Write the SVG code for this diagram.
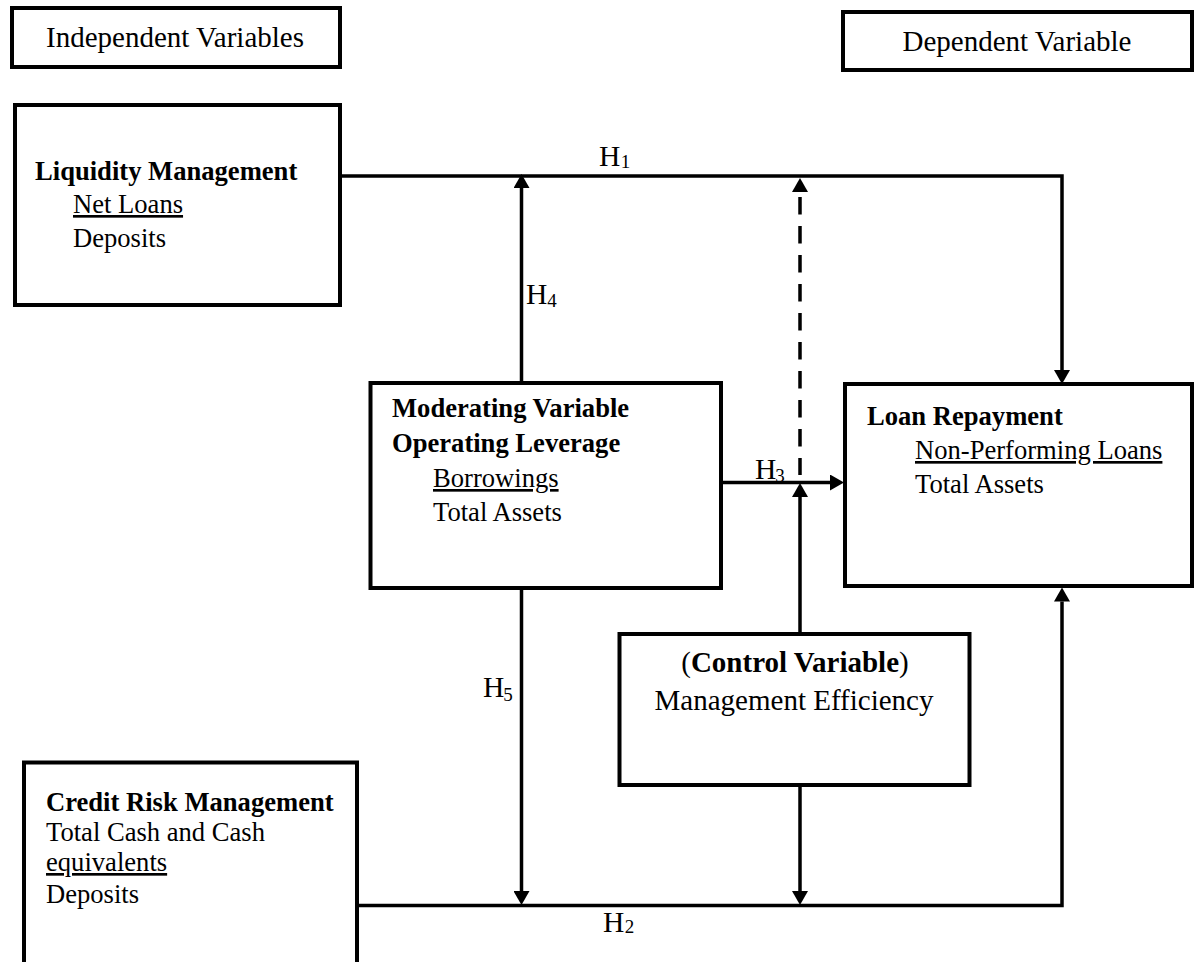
<svg xmlns="http://www.w3.org/2000/svg" width="1195" height="962" viewBox="0 0 1195 962">
<style>
.box{fill:#fff;stroke:#000;stroke-width:4}
.t{font-family:"Liberation Serif","Times New Roman",serif;font-size:26.6px;fill:#000}
.big{font-size:29px}
.b{font-weight:bold}
.u{text-decoration:underline}
.h{font-family:"Liberation Serif","Times New Roman",serif;font-size:29.5px;fill:#000}
.s{font-size:19px}
.ln{fill:none;stroke:#000;stroke-width:3.5}
.dash{stroke-dasharray:17.5 11.5;stroke-dashoffset:24}
</style>
<defs>
<marker id="arr" viewBox="0 0 14 16" markerWidth="14" markerHeight="16" refX="0" refY="8" orient="auto" markerUnits="userSpaceOnUse">
<path d="M0,0 L14,8 L0,16 Z" fill="#000"/>
</marker>
<marker id="arrs" viewBox="0 0 14 16" markerWidth="14" markerHeight="16" refX="0" refY="8" orient="auto-start-reverse" markerUnits="userSpaceOnUse">
<path d="M0,0 L14,8 L0,16 Z" fill="#000"/>
</marker>
</defs>
<rect width="1195" height="962" fill="#fff"/>

<g id="connectors">
<path class="ln" d="M342,176 H1062 V370" marker-end="url(#arr)"/>
<path class="ln" d="M521.5,383 V188" marker-end="url(#arr)"/>
<path class="ln dash" d="M800,192 V475" marker-start="url(#arrs)"/>
<path class="ln" d="M721,482.5 H830" marker-end="url(#arr)"/>
<path class="ln" d="M800,634 V497" marker-end="url(#arr)"/>
<path class="ln" d="M521.5,588 V891" marker-end="url(#arr)"/>
<path class="ln" d="M800,785 V891" marker-end="url(#arr)"/>
<path class="ln" d="M357,905.5 H1062 V601.5" marker-end="url(#arr)"/>
<text class="h" x="599" y="166">H<tspan class="s" dx="0.5" dy="2">1</tspan></text>
<text class="h" x="526" y="304">H<tspan class="s" dx="0" dy="3">4</tspan></text>
<text class="h" x="755" y="479">H<tspan class="s" dx="-1" dy="3">3</tspan></text>
<text class="h" x="483" y="697">H<tspan class="s" dx="-1" dy="4">5</tspan></text>
<text class="h" x="603" y="932">H<tspan class="s" dx="0.5" dy="1">2</tspan></text>
</g>

<g id="independent-label">
<rect class="box" x="12" y="8" width="328" height="59"/>
<text class="t big" x="175" y="47" text-anchor="middle">Independent Variables</text>
</g>

<g id="dependent-label">
<rect class="box" x="843" y="12" width="349" height="58"/>
<text class="t big" x="1017" y="51" text-anchor="middle">Dependent Variable</text>
</g>

<g id="liquidity">
<rect class="box" x="15" y="105" width="325" height="200"/>
<text class="t b" x="35" y="180">Liquidity Management</text>
<text class="t u" x="73" y="213">Net Loans</text>
<text class="t" x="73" y="247">Deposits</text>
</g>

<g id="moderating">
<rect class="box" x="370.5" y="383" width="350.5" height="205"/>
<text class="t b" x="392" y="417">Moderating Variable</text>
<text class="t b" x="392" y="452">Operating Leverage</text>
<text class="t u" x="433" y="487">Borrowings</text>
<text class="t" x="433" y="521">Total Assets</text>
</g>

<g id="loan-repayment">
<rect class="box" x="845" y="384" width="347" height="202"/>
<text class="t b" x="867" y="425">Loan Repayment</text>
<text class="t u" x="915" y="459">Non-Performing Loans</text>
<text class="t" x="915" y="493">Total Assets</text>
</g>

<g id="control">
<rect class="box" x="619.5" y="634" width="350" height="151"/>
<text class="t big" x="795" y="672" text-anchor="middle">(<tspan class="b">Control Variable</tspan>)</text>
<text class="t big" x="794" y="710" text-anchor="middle">Management Efficiency</text>
</g>

<g id="credit-risk">
<rect class="box" x="24" y="762.5" width="333" height="215"/>
<text class="t b" x="46" y="811">Credit Risk Management</text>
<text class="t" x="46" y="841">Total Cash and Cash</text>
<text class="t u" x="46" y="871">equivalents</text>
<text class="t" x="46" y="903">Deposits</text>
</g>
</svg>
